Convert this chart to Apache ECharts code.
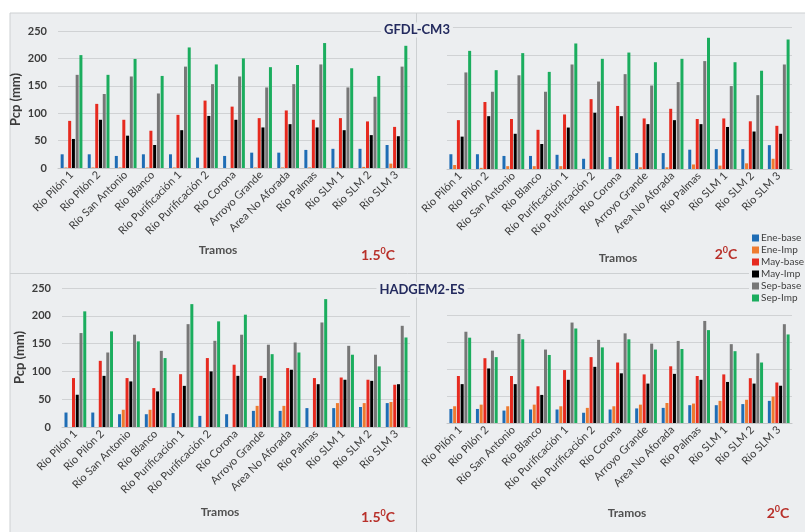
<!DOCTYPE html>
<html>
<head>
<meta charset="utf-8">
<script src="https://cdn.jsdelivr.net/npm/echarts@6/dist/echarts.min.js"></script>
<style>
  html, body { margin: 0; padding: 0; background: #ffffff; }
  #main { width: 805px; height: 532px; }
</style>
</head>
<body>
<div id="main"></div>
<script>
var tramos = ['Río Pilón 1', 'Río Pilón 2', 'Río San Antonio', 'Río Blanco', 'Río Purificación 1',
  'Río Purificación 2', 'Río Corona', 'Arroyo Grande', 'Area No Aforada', 'Río Palmas',
  'Río SLM 1', 'Río SLM 2', 'Río SLM 3'];
var serieNames = ['Ene-base', 'Ene-Imp', 'May-base', 'May-Imp', 'Sep-base', 'Sep-Imp'];
var yTicks = [0, 50, 100, 150, 200, 250];

// GFDL-CM3, 1.5 C
var gfdl15EneBase = [25, 25, 22, 25, 25, 19, 22, 28, 28, 33, 35, 35, 42];
var gfdl15EneImp  = [1, 1, 1, 1, 1, 0, 0, 1, 1, 1, 1, 2, 8];
var gfdl15MayBase = [86, 117, 88, 68, 97, 123, 112, 91, 105, 88, 91, 85, 75];
var gfdl15MayImp  = [53, 88, 59, 42, 69, 95, 88, 74, 80, 74, 69, 60, 58];
var gfdl15SepBase = [170, 135, 167, 136, 185, 153, 167, 147, 153, 189, 147, 130, 185];
var gfdl15SepImp  = [206, 170, 199, 168, 220, 189, 200, 184, 188, 228, 182, 168, 223];

// GFDL-CM3, 2 C
var gfdl20EneBase = [26, 26, 23, 23, 25, 18, 21, 28, 28, 34, 35, 35, 42];
var gfdl20EneImp  = [7, 2, 5, 5, 5, 0, 0, 3, 3, 8, 6, 10, 18];
var gfdl20MayBase = [86, 118, 88, 69, 96, 123, 111, 89, 106, 88, 89, 84, 76];
var gfdl20MayImp  = [57, 93, 62, 44, 73, 99, 93, 79, 86, 79, 74, 66, 62];
var gfdl20SepBase = [170, 136, 165, 136, 184, 154, 167, 147, 153, 190, 146, 130, 184];
var gfdl20SepImp  = [208, 174, 204, 171, 221, 194, 205, 188, 194, 231, 188, 173, 228];

// HADGEM2-ES, 1.5 C
var had15EneBase = [26, 26, 23, 23, 25, 20, 23, 29, 29, 34, 34, 36, 43];
var had15EneImp  = [0, 0, 31, 31, 0, 0, 0, 38, 38, 0, 43, 43, 45];
var had15MayBase = [88, 119, 88, 70, 95, 124, 112, 92, 106, 88, 89, 85, 76];
var had15MayImp  = [58, 92, 82, 64, 74, 100, 92, 88, 103, 77, 85, 83, 77];
var had15SepBase = [169, 134, 166, 137, 185, 155, 166, 148, 152, 188, 146, 130, 182];
var had15SepImp  = [208, 172, 154, 124, 221, 190, 202, 131, 134, 230, 130, 109, 161];

// HADGEM2-ES, 2 C
var had20EneBase = [26, 26, 23, 25, 25, 19, 25, 27, 28, 33, 33, 35, 41];
var had20EneImp  = [31, 34, 31, 34, 31, 28, 31, 34, 37, 36, 41, 43, 49];
var had20MayBase = [87, 120, 87, 68, 98, 122, 112, 90, 105, 87, 90, 83, 75];
var had20MayImp  = [72, 101, 72, 52, 80, 104, 92, 73, 91, 80, 76, 73, 69];
var had20SepBase = [169, 134, 165, 136, 186, 154, 166, 147, 152, 189, 146, 129, 183];
var had20SepImp  = [158, 122, 155, 126, 175, 140, 155, 136, 137, 172, 133, 112, 164];

var colores = ['#1f6db5', '#ee7b30', '#e62a1f', '#000000', '#777777', '#1bad5e'];

var paneles = [
  [gfdl15EneBase, gfdl15EneImp, gfdl15MayBase, gfdl15MayImp, gfdl15SepBase, gfdl15SepImp],
  [gfdl20EneBase, gfdl20EneImp, gfdl20MayBase, gfdl20MayImp, gfdl20SepBase, gfdl20SepImp],
  [had15EneBase, had15EneImp, had15MayBase, had15MayImp, had15SepBase, had15SepImp],
  [had20EneBase, had20EneImp, had20MayBase, had20MayImp, had20SepBase, had20SepImp]
];

var font = 'Lato, "Open Sans", sans-serif';
var fondo = '#eceef0';
var dom = document.getElementById('main');
var myChart = echarts.init(dom);

var grids = [
  {left: 58, top: 31, width: 352, height: 137},
  {left: 447, top: 27, width: 345, height: 142},
  {left: 62, top: 288, width: 348, height: 139},
  {left: 447, top: 288, width: 345, height: 135}
];

var xAxes = [], yAxes = [], series = [];
grids.forEach(function (g, i) {
  xAxes.push({
    type: 'category', gridIndex: i, data: tramos,
    axisTick: {show: false},
    axisLine: {lineStyle: {color: '#c4c6c8'}},
    axisLabel: {rotate: 45, interval: 0, fontSize: 11, margin: 5, color: '#3c3c3c', fontFamily: font}
  });
  yAxes.push({
    type: 'value', gridIndex: i, min: yTicks[0], max: yTicks[yTicks.length - 1], interval: 50,
    axisLine: {show: false}, axisTick: {show: false},
    splitLine: {lineStyle: {color: '#d0d2d4'}},
    axisLabel: {show: i % 2 === 0, fontSize: 11, fontWeight: 'bold', color: '#3c3c3c', margin: 11, fontFamily: font},
    name: i % 2 === 0 ? 'Pcp (mm)' : '',
    nameLocation: 'middle', nameGap: 36,
    nameTextStyle: {fontSize: 13, fontWeight: 'bold', color: '#3c3c3c', fontFamily: font}
  });
  paneles[i].forEach(function (vals, k) {
    series.push({
      name: serieNames[k], type: 'bar', xAxisIndex: i, yAxisIndex: i,
      data: vals, barWidth: 3, barGap: '25%',
      itemStyle: {color: colores[k]}
    });
  });
});

function tempText(x, y, t) {
  return {
    type: 'text', x: x, y: y, z: 100,
    style: {
      text: '{a|' + t + '}{s|0}{a|C}', align: 'center', verticalAlign: 'middle',
      rich: {
        a: {fontSize: 14, fontWeight: 'bold', fill: '#b8302a', color: '#b8302a', fontFamily: font},
        s: {fontSize: 9, fontWeight: 'bold', fill: '#b8302a', color: '#b8302a', fontFamily: font, padding: [0, 0, 8, 0]}
      }
    }
  };
}
function plainText(x, y, t, size, color, bg) {
  var st = {text: t, align: 'center', verticalAlign: 'middle', fontSize: size, fontWeight: 'bold',
    fill: color, fontFamily: font};
  if (bg) {
    st.backgroundColor = bg;
    st.padding = [1, 3, 1, 3];
  }
  return {type: 'text', x: x, y: y, z: 100, style: st};
}

option = {
  backgroundColor: '#ffffff',
  animation: false,
  grid: grids,
  xAxis: xAxes,
  yAxis: yAxes,
  series: series,
  legend: {
    data: serieNames, orient: 'vertical', left: 749, top: 231,
    itemWidth: 7, itemHeight: 7, itemGap: 2, icon: 'rect',
    backgroundColor: fondo, padding: [2, 3, 2, 3],
    textStyle: {fontSize: 10, color: '#404040', fontFamily: font, padding: [0, 0, 0, -3]}
  },
  graphic: [
    {type: 'rect', z: -10, shape: {x: 10, y: 13, width: 800, height: 525},
      style: {fill: fondo, stroke: '#cdd0d2', lineWidth: 1}},
    {type: 'line', z: -9, shape: {x1: 416.5, y1: 13, x2: 416.5, y2: 532},
      style: {stroke: '#cdd0d2', lineWidth: 1}},
    {type: 'line', z: -9, shape: {x1: 10, y1: 273.5, x2: 805, y2: 273.5},
      style: {stroke: '#cdd0d2', lineWidth: 1}},
    plainText(417, 30, 'GFDL-CM3', 13, '#232a5e', fondo),
    plainText(422, 290, 'HADGEM2-ES', 13, '#232a5e', fondo),
    plainText(218, 250, 'Tramos', 12, '#505050'),
    plainText(618, 258, 'Tramos', 12, '#505050'),
    plainText(220, 512, 'Tramos', 12, '#505050'),
    plainText(627, 513, 'Tramos', 12, '#505050'),
    tempText(378, 255, '1.5'),
    tempText(726, 254, '2'),
    tempText(378, 517, '1.5'),
    tempText(778, 513, '2')
  ]
};

if (option && typeof option === "object") {
  myChart.setOption(option, true);
}
</script>
</body>
</html>
